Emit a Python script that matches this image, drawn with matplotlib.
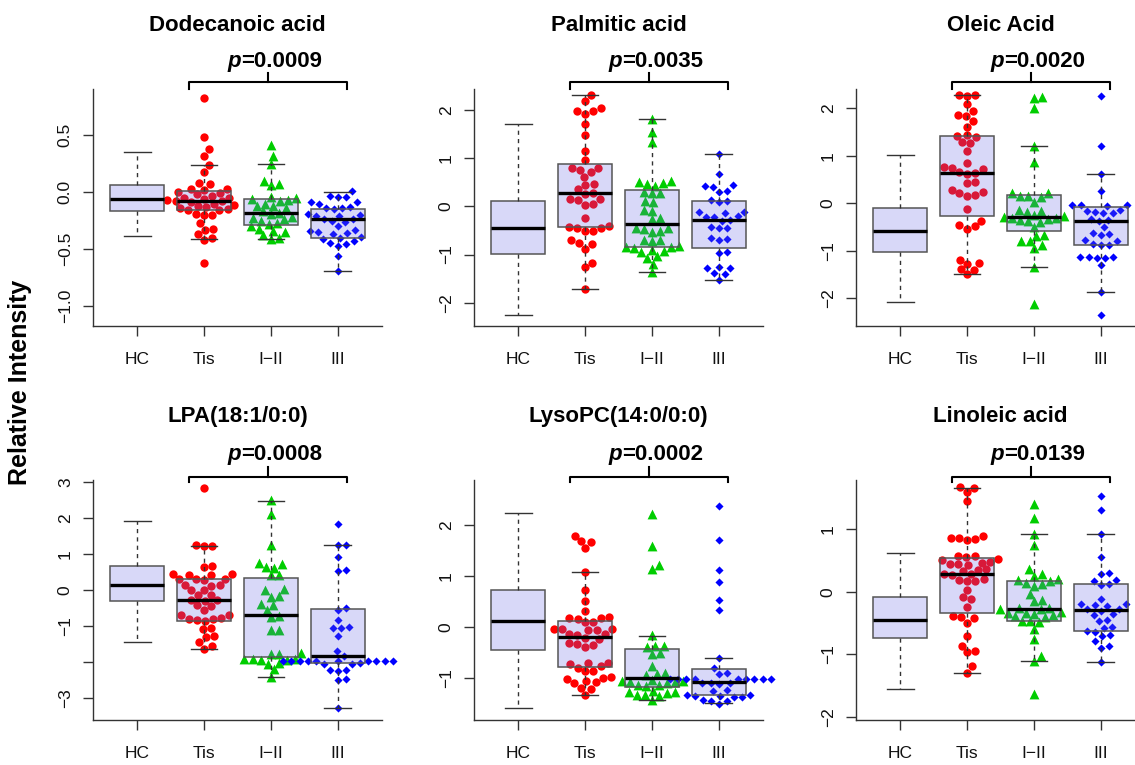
import numpy as np
import matplotlib
matplotlib.use("Agg")
import matplotlib.pyplot as plt
import matplotlib.transforms as mtransforms

plt.rcParams['font.family'] = ['Liberation Sans', 'DejaVu Sans']

# group labels, panel titles and p values
groups = ["HC", "Tis", "I\u2212II", "III"]
titles = ["Dodecanoic acid", "Palmitic acid", "Oleic Acid",
          "LPA(18:1/0:0)", "LysoPC(14:0/0:0)", "Linoleic acid"]
p_values = ["=0.0009", "=0.0035", "=0.0020", "=0.0008", "=0.0002", "=0.0139"]

# box stats per group: [whislo, q1, median, q3, whishi]
dodec_box = [[-0.385, -0.165, -0.06, 0.06, 0.35], [-0.41, -0.16, -0.076, 0.01, 0.235],
             [-0.41, -0.29, -0.18, -0.06, 0.25], [-0.69, -0.40, -0.24, -0.145, 0.0]]
palm_box = [[-2.26, -0.98, -0.455, 0.10, 1.71], [-1.72, -0.43, 0.276, 0.88, 2.31],
            [-1.36, -0.84, -0.36, 0.345, 1.80], [-1.52, -0.86, -0.28, 0.10, 1.08]]
oleic_box = [[-2.08, -1.03, -0.58, -0.10, 1.03], [-1.49, -0.26, 0.64, 1.43, 2.28],
             [-1.34, -0.58, -0.29, 0.17, 1.20], [-1.87, -0.87, -0.36, -0.08, 0.63]]
lpa_box = [[-1.44, -0.30, 0.15, 0.66, 1.92], [-1.62, -0.85, -0.27, 0.31, 1.23],
           [-2.41, -1.85, -0.70, 0.34, 2.47], [-3.28, -2.03, -1.83, -0.53, 1.26]]
lyso_box = [[-1.60, -0.45, 0.12, 0.73, 2.24], [-1.34, -0.79, -0.21, 0.12, 1.07],
            [-1.44, -1.19, -1.0, -0.43, -0.18], [-1.49, -1.33, -1.08, -0.82, -0.62]]
lino_box = [[-1.55, -0.74, -0.455, -0.08, 0.63], [-1.29, -0.34, 0.28, 0.54, 1.67],
            [-1.10, -0.47, -0.27, 0.18, 0.92], [-1.12, -0.62, -0.29, 0.12, 0.93]]

# individual samples (Tis, I-II, III)
dodec_tis = [0.83, 0.48, 0.38, 0.32, 0.24, 0.18, 0.08, 0.07, 0.03, 0.03, 0.02, 0.0, -0.01, -0.02,
             -0.03, -0.05, -0.05, -0.06, -0.07, -0.08, -0.08, -0.09, -0.10, -0.11, -0.12, -0.13,
             -0.14, -0.15, -0.16, -0.16, -0.19, -0.20, -0.20, -0.27, -0.32, -0.33, -0.37, -0.40,
             -0.42, -0.62]
dodec_i_ii = [0.41, 0.32, 0.25, 0.10, 0.07, 0.06, -0.04, -0.05, -0.06, -0.07, -0.08, -0.10,
              -0.12, -0.12, -0.14, -0.17, -0.18, -0.19, -0.22, -0.23, -0.24, -0.25, -0.27, -0.28,
              -0.30, -0.32, -0.34, -0.35, -0.38, -0.40, -0.41]
dodec_iii = [0.01, -0.03, -0.04, -0.04, -0.09, -0.09, -0.10, -0.13, -0.14, -0.14, -0.15, -0.19,
             -0.20, -0.21, -0.21, -0.24, -0.24, -0.25, -0.26, -0.30, -0.33, -0.34, -0.35, -0.36,
             -0.37, -0.39, -0.40, -0.41, -0.43, -0.45, -0.46, -0.47, -0.56, -0.69]

palm_tis = [2.31, 2.19, 2.04, 1.98, 1.97, 1.92, 1.70, 1.47, 1.14, 0.95, 0.80, 0.79, 0.76, 0.72,
            0.61, 0.46, 0.44, 0.35, 0.27, 0.25, 0.16, 0.15, 0.13, 0.05, 0.03, -0.24, -0.41, -0.43,
            -0.44, -0.46, -0.51, -0.52, -0.69, -0.77, -0.79, -0.88, -1.17, -1.26, -1.72]
palm_i_ii = [1.80, 1.53, 1.33, 0.52, 0.50, 0.48, 0.46, 0.43, 0.30, 0.28, 0.27, 0.10, 0.08, -0.07,
             -0.09, -0.24, -0.27, -0.44, -0.46, -0.48, -0.52, -0.54, -0.69, -0.70, -0.72, -0.82,
             -0.84, -0.85, -0.87, -0.91, -0.93, -0.95, -1.04, -1.07, -1.19, -1.36]
palm_iii = [1.08, 0.67, 0.44, 0.42, 0.41, 0.31, 0.29, 0.14, 0.10, 0.08, -0.11, -0.12, -0.14,
            -0.21, -0.22, -0.23, -0.28, -0.30, -0.43, -0.44, -0.46, -0.66, -0.68, -0.70, -0.95,
            -0.97, -1.25, -1.27, -1.28, -1.38, -1.40, -1.52]

oleic_tis = [2.29, 2.28, 2.27, 2.09, 1.95, 1.86, 1.84, 1.74, 1.62, 1.44, 1.42, 1.40, 1.29, 1.27,
             1.11, 0.86, 0.77, 0.75, 0.72, 0.66, 0.64, 0.62, 0.46, 0.44, 0.29, 0.25, 0.23, 0.17,
             0.16, -0.12, -0.36, -0.46, -0.48, -0.53, -1.20, -1.26, -1.28, -1.38, -1.40, -1.49]
oleic_i_ii = [2.24, 2.22, 2.01, 1.20, 0.88, 0.23, 0.21, 0.16, 0.15, 0.13, 0.03, -0.13, -0.15,
              -0.17, -0.25, -0.27, -0.28, -0.30, -0.31, -0.33, -0.34, -0.37, -0.38, -0.50, -0.66,
              -0.68, -0.78, -0.79, -0.88, -0.94, -1.34, -2.12]
oleic_iii = [2.27, 1.20, 0.63, 0.27, -0.03, -0.04, -0.04, -0.05, -0.14, -0.15, -0.17, -0.20,
             -0.21, -0.33, -0.35, -0.36, -0.50, -0.63, -0.65, -0.66, -0.77, -0.79, -0.86, -0.87,
             -0.88, -1.12, -1.13, -1.13, -1.14, -1.15, -1.30, -1.87, -2.35]

lpa_tis = [2.82, 1.24, 1.23, 1.22, 0.66, 0.64, 0.45, 0.44, 0.43, 0.42, 0.31, 0.30, 0.30, 0.29,
           0.14, 0.13, 0.12, 0.01, -0.01, -0.13, -0.15, -0.27, -0.28, -0.29, -0.41, -0.43, -0.55,
           -0.68, -0.70, -0.77, -0.79, -0.80, -0.84, -0.86, -1.06, -1.08, -1.27, -1.29, -1.43,
           -1.55, -1.62]
lpa_i_ii = [2.49, 2.10, 1.25, 0.75, 0.73, 0.64, 0.62, 0.43, 0.41, 0.02, -0.01, -0.16, -0.18,
            -0.38, -0.40, -0.55, -0.73, -0.75, -1.10, -1.12, -1.74, -1.76, -1.78, -1.90, -1.91,
            -1.92, -1.93, -1.94, -2.02, -2.04, -2.20, -2.41]
lpa_iii = [1.84, 1.26, 1.25, 0.92, 0.55, 0.53, -0.50, -0.54, -0.84, -1.02, -1.04, -1.05, -1.26,
           -1.70, -1.82, -1.96, -1.96, -1.96, -1.96, -1.96, -1.96, -1.96, -1.96, -1.96, -1.96,
           -2.03, -2.04, -2.05, -2.21, -2.22, -2.23, -2.46, -2.48, -3.28]

lyso_tis = [1.79, 1.68, 1.66, 1.54, 1.07, 0.73, 0.51, 0.31, 0.19, 0.18, 0.17, 0.16, 0.10, 0.09,
            -0.04, -0.05, -0.05, -0.06, -0.07, -0.14, -0.15, -0.16, -0.22, -0.24, -0.32, -0.34,
            -0.36, -0.39, -0.71, -0.72, -0.74, -0.78, -0.80, -0.86, -0.87, -0.99, -1.00, -1.02,
            -1.07, -1.09, -1.10, -1.20, -1.22, -1.34]
lyso_i_ii = [2.21, 1.58, 1.21, 1.13, -0.16, -0.37, -0.38, -0.40, -0.51, -0.53, -0.77, -0.90,
             -0.92, -0.94, -1.05, -1.06, -1.07, -1.08, -1.09, -1.10, -1.14, -1.15, -1.16, -1.26,
             -1.28, -1.29, -1.30, -1.33, -1.34, -1.36, -1.44]
lyso_iii = [2.37, 1.70, 1.12, 0.88, 0.52, 0.33, -0.62, -0.80, -0.91, -0.93, -1.03, -1.03, -1.03,
            -1.03, -1.03, -1.03, -1.03, -1.03, -1.03, -1.10, -1.10, -1.11, -1.12, -1.25, -1.27,
            -1.33, -1.34, -1.35, -1.36, -1.37, -1.38, -1.43, -1.45, -1.46, -1.51]

lino_tis = [1.68, 1.66, 1.60, 1.45, 0.90, 0.87, 0.86, 0.85, 0.83, 0.58, 0.57, 0.56, 0.52, 0.51,
            0.48, 0.47, 0.45, 0.44, 0.43, 0.36, 0.35, 0.33, 0.29, 0.28, 0.27, 0.20, 0.19, 0.18,
            0.17, 0.03, -0.08, -0.12, -0.24, -0.39, -0.40, -0.42, -0.49, -0.71, -0.86, -0.94,
            -0.96, -1.18, -1.29]
lino_i_ii = [1.40, 1.18, 0.92, 0.75, 0.37, 0.28, 0.26, 0.21, 0.19, 0.17, 0.15, 0.12, 0.10, -0.03,
             -0.13, -0.15, -0.25, -0.26, -0.27, -0.28, -0.32, -0.33, -0.34, -0.35, -0.37, -0.38,
             -0.40, -0.46, -0.47, -0.48, -0.59, -0.75, -1.02, -1.10, -1.63]
lino_iii = [1.53, 1.31, 0.93, 0.56, 0.30, 0.28, 0.19, 0.18, 0.12, 0.11, -0.11, -0.19, -0.20,
            -0.21, -0.22, -0.27, -0.28, -0.30, -0.35, -0.37, -0.45, -0.47, -0.56, -0.58, -0.62,
            -0.64, -0.69, -0.71, -0.79, -0.87, -0.89, -1.12]

# y limits and ticks per panel
ylims = [(-1.176, 0.906), (-2.48, 2.43), (-2.58, 2.41), (-3.6, 3.05), (-1.83, 2.88), (-2.05, 1.79)]
yticks = [[-1.0, -0.5, 0.0, 0.5], [-2, -1, 0, 1, 2], [-2, -1, 0, 1, 2],
          [-3, -2, -1, 0, 1, 2, 3], [-1, 0, 1, 2], [-2, -1, 0, 1]]
ytick_labels = [["\u22121.0", "\u22120.5", "0.0", "0.5"],
                ["\u22122", "\u22121", "0", "1", "2"],
                ["\u22122", "\u22121", "0", "1", "2"],
                ["\u22123", "", "\u22121", "0", "1", "2", "3"],
                ["\u22121", "0", "1", "2"],
                ["\u22122", "\u22121", "0", "1"]]

boxes = [dodec_box, palm_box, oleic_box, lpa_box, lyso_box, lino_box]
points = [(dodec_tis, dodec_i_ii, dodec_iii), (palm_tis, palm_i_ii, palm_iii),
          (oleic_tis, oleic_i_ii, oleic_iii), (lpa_tis, lpa_i_ii, lpa_iii),
          (lyso_tis, lyso_i_ii, lyso_iii), (lino_tis, lino_i_ii, lino_iii)]

point_colors = ["#FF0000", "#00CD00", "#0000FF"]
point_markers = ["o", "^", "D"]
point_sizes = [36, 50, 17]

W, H = 1135, 765
fig = plt.figure(figsize=(W / 100, H / 100), dpi=100)

col_left = [93, 474, 856]
row_top = [89, 480]
row_bot = [326, 720]
ax_w = 289


def swarm(vals, pos, ax, d=8.3):
    # simple beeswarm: put every point as close to the centre as it can go
    pix = ax.transData.transform(np.column_stack([np.full(len(vals), pos), vals]))
    ys = pix[:, 1]
    px_unit = ax.transData.transform((1, 0))[0] - ax.transData.transform((0, 0))[0]
    order = np.argsort(ys, kind="stable")
    px_list, py_list = [], []
    out = np.zeros(len(vals))
    for i in order:
        y = ys[i]
        cands = [0.0]
        for qx, qy in zip(px_list, py_list):
            dy = abs(qy - y)
            if dy < d:
                dx = np.sqrt(d * d - dy * dy)
                cands += [qx + dx, qx - dx]
        best = 0.0
        for c in sorted(cands, key=abs):
            if all((c - qx) ** 2 + (y - qy) ** 2 >= d * d - 1e-6 for qx, qy in zip(px_list, py_list)):
                best = c
                break
        px_list.append(best)
        py_list.append(y)
        out[i] = best
    return pos + out / px_unit


for k in range(6):
    r, c = divmod(k, 3)
    top, bot = row_top[r], row_bot[r]
    ax_h = bot - top
    ax = fig.add_axes([col_left[c] / W, 1 - bot / H, ax_w / W, ax_h / H])
    ax.set_xlim(0.34, 4.66)
    ax.set_ylim(*ylims[k])

    # points first, the half transparent boxes go on top of them
    for g in range(3):
        vals = points[k][g]
        xs = swarm(vals, g + 2, ax)
        ax.scatter(xs, vals, s=point_sizes[g], marker=point_markers[g], color=point_colors[g],
                   linewidths=0, zorder=2, clip_on=False)

    stats = []
    for b in boxes[k]:
        stats.append(dict(whislo=b[0], q1=b[1], med=b[2], q3=b[3], whishi=b[4], fliers=[]))
    ax.bxp(stats, positions=[1, 2, 3, 4], widths=0.8, patch_artist=True, showfliers=False,
           boxprops=dict(facecolor=(0.4, 0.4, 0.9, 0.25), edgecolor="#555555", linewidth=1.1),
           whiskerprops=dict(color="#333333", linestyle=(0, (3, 3)), linewidth=1.0),
           capprops=dict(color="#333333", linewidth=1.0),
           medianprops=dict(color="black", linewidth=2.4, solid_capstyle="butt"),
           zorder=3)

    ax.set_xticks([1, 2, 3, 4])
    ax.set_xticklabels(groups)
    ax.set_yticks(yticks[k])
    ax.set_yticklabels(ytick_labels[k])
    ax.set_xlim(0.34, 4.66)
    ax.set_ylim(*ylims[k])
    for s in ["top", "right"]:
        ax.spines[s].set_visible(False)
    for s in ["left", "bottom"]:
        ax.spines[s].set_color("#333333")
        ax.spines[s].set_linewidth(1.0)
    ax.tick_params(axis="x", length=7.5, width=1.0, color="#333333", pad=11,
                   labelsize=12.5, labelcolor="#111111")
    ax.tick_params(axis="y", length=7.5, width=1.0, color="#333333", pad=7,
                   labelsize=12.5, labelcolor="#111111", labelrotation=90)
    for lab in ax.get_yticklabels():
        lab.set_va("center")

    # title, bracket and p value above the axes
    ax.text(0.5, 1 + 58 / ax_h, titles[k], transform=ax.transAxes, ha="center",
            va="baseline", fontsize=16, fontweight="bold")
    trans = mtransforms.blended_transform_factory(ax.transData, ax.transAxes)
    if r == 0:
        y_h, y_e, y_c, y_p = 7, 0, 16, 22
    else:
        y_h, y_e, y_c, y_p = 3, -2, 13, 20
    ax.plot([1.78, 1.78, 4.13, 4.13], [1 + y_e / ax_h, 1 + y_h / ax_h, 1 + y_h / ax_h, 1 + y_e / ax_h],
            transform=trans, color="black", linewidth=1.5, clip_on=False, solid_joinstyle="round")
    ax.plot([2.96, 2.96], [1 + y_h / ax_h, 1 + y_c / ax_h], transform=trans, color="black",
            linewidth=1.5, clip_on=False)
    ax.text(2.55, 1 + y_p / ax_h, "p", transform=trans, ha="right", va="baseline",
            fontsize=16, fontweight="bold", fontstyle="italic")
    ax.text(2.55, 1 + y_p / ax_h, p_values[k], transform=trans, ha="left", va="baseline",
            fontsize=16, fontweight="bold")

fig.text(20 / W, 1 - 382 / H, "Relative Intensity", rotation=90, ha="center", va="center",
         fontsize=18, fontweight="bold")

fig.savefig("out.png", dpi=100)
